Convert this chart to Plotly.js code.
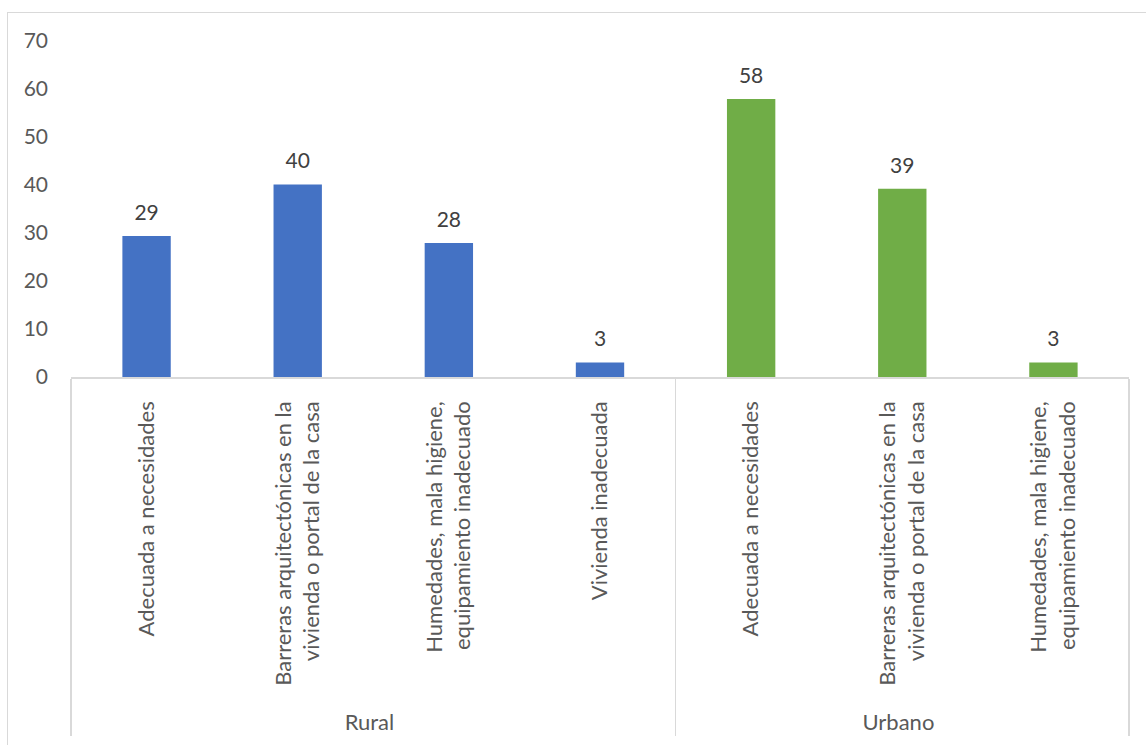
<!DOCTYPE html>
<html>
<head>
<meta charset="utf-8">
<script src="https://cdn.plot.ly/plotly-3.0.1.min.js"></script>
<style>
  html, body { margin: 0; padding: 0; background: #fff; }
  #wrap { position: relative; width: 1146px; height: 745px; overflow: hidden; }
  #frame { position: absolute; left: 7px; top: 12px; width: 1160px; height: 760px;
           border: 1.5px solid #d9d9d9; box-sizing: border-box; pointer-events: none; }
  #chart { position: absolute; left: 0; top: 0; width: 1146px; height: 745px; }
</style>
</head>
<body>
<div id="wrap">
  <div id="chart"></div>
  <div id="frame"></div>
</div>
<script>
// ---- data ----
const groups = ["Rural", "Urbano"];
const ruralCategories = [
  "Adecuada a necesidades",
  "Barreras arquitectónicas en la<br>vivienda o portal de la casa",
  "Humedades, mala higiene,<br>equipamiento inadecuado",
  "Vivienda inadecuada"
];
const urbanCategories = [
  "Adecuada a necesidades",
  "Barreras arquitectónicas en la<br>vivienda o portal de la casa",
  "Humedades, mala higiene,<br>equipamiento inadecuado"
];
const ruralValues = [29.4, 40.1, 27.9, 3.0];
const urbanValues = [57.9, 39.2, 3.0];
const yTicks = [0, 10, 20, 30, 40, 50, 60, 70];

// ---- styling ----
const FONT = "Lato, 'Open Sans', sans-serif";
const BLUE = "#4472C4";
const GREEN = "#70AD47";
const AXISGRAY = "#d9d9d9";
const LABELGRAY = "#595959";

// invisible leading padding: widens the rotated label boxes so the group
// labels ("Rural", "Urbano") sit lower, as in the original
const PAD = "\u00a0".repeat(3);
const padLabel = s => PAD + s;

const ruralX = [ruralCategories.map(() => groups[0]), ruralCategories.map(padLabel)];
const urbanX = [urbanCategories.map(() => groups[1]), urbanCategories.map(padLabel)];

function barTrace(x, y, color) {
  return { type: "bar", x: x, y: y, width: 0.32,
           marker: { color: color, line: { width: 0 } },
           hoverinfo: "skip", showlegend: false };
}
function labelTrace(x, y) {
  return { type: "scatter", mode: "markers+text", x: x, y: y,
           text: y.map(v => Math.round(v).toString()),
           textposition: "top center",
           textfont: { family: FONT, size: 21, color: "#404040" },
           marker: { size: 16, opacity: 0 },
           cliponaxis: false, hoverinfo: "skip", showlegend: false };
}

const data = [
  barTrace(ruralX, ruralValues, BLUE),
  barTrace(urbanX, urbanValues, GREEN),
  labelTrace(ruralX, ruralValues),
  labelTrace(urbanX, urbanValues)
];

const layout = {
  width: 1146, height: 745,
  margin: { l: 71, r: 17, t: 41, b: 368, pad: 0 },
  paper_bgcolor: "rgba(0,0,0,0)", plot_bgcolor: "rgba(0,0,0,0)",
  barmode: "overlay",
  font: { family: FONT, color: LABELGRAY, size: 22 },
  xaxis: {
    type: "multicategory",
    showline: true, linecolor: AXISGRAY, linewidth: 1.5,
    showgrid: false, zeroline: false,
    ticks: "", tickangle: -90, ticklabelstandoff: 14,
    tickfont: { family: FONT, size: 22, color: LABELGRAY },
    showdividers: true, dividercolor: AXISGRAY, dividerwidth: 1.5,
    automargin: false
  },
  yaxis: {
    range: [0, 70], tickvals: yTicks, ticktext: yTicks.map(String),
    showline: false, showgrid: false, zeroline: false,
    ticks: "", ticklabelstandoff: 22,
    tickfont: { family: FONT, size: 21, color: LABELGRAY },
    automargin: false
  }
};

Plotly.newPlot("chart", data, layout, { displayModeBar: false, staticPlot: true });
</script>
</body>
</html>
